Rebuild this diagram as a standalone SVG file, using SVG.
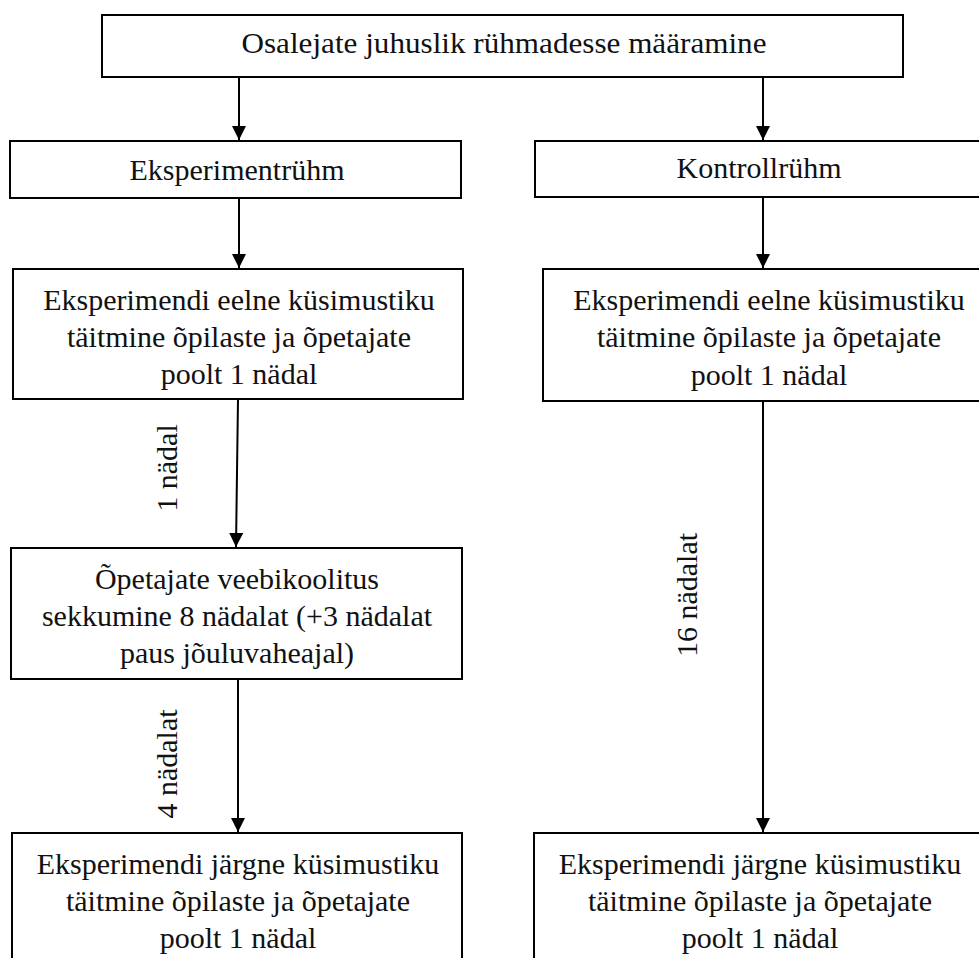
<svg xmlns="http://www.w3.org/2000/svg" width="979" height="958" viewBox="0 0 979 958">
<style>
.box{fill:#fff;stroke:#000;stroke-width:2}
.t{font-size:30px;fill:#111;text-anchor:middle}
.c{stroke:#000;stroke-width:2;fill:none;marker-end:url(#ah)}
</style>
<defs>
<marker id="ah" markerUnits="userSpaceOnUse" markerWidth="14" markerHeight="14" refX="14" refY="7" orient="auto">
<path d="M0,0 L14,7 L0,14 z" fill="#000"/>
</marker>
</defs>
<rect width="979" height="958" fill="#fff"/>
<g id="connectors">
<line class="c" x1="239" y1="77" x2="239" y2="140"/>
<line class="c" x1="763" y1="77" x2="763" y2="140"/>
<line class="c" x1="239" y1="198" x2="239" y2="268"/>
<line class="c" x1="763" y1="197" x2="763" y2="268"/>
<line class="c" x1="238" y1="399" x2="236" y2="547"/>
<line class="c" x1="238" y1="679" x2="238" y2="832"/>
<line class="c" x1="763" y1="401" x2="763" y2="832"/>
<text class="t" font-family="Liberation Serif, serif" transform="translate(177,468) rotate(-90)">1 nädal</text>
<text class="t" font-family="Liberation Serif, serif" transform="translate(177,764) rotate(-90)">4 nädalat</text>
<text class="t" font-family="Liberation Serif, serif" transform="translate(697,595) rotate(-90)">16 nädalat</text>
</g>
<g id="n-top">
<rect class="box" x="102" y="15" width="801" height="62"/>
<text class="t" font-family="Liberation Serif, serif" x="504" y="53" textLength="525" lengthAdjust="spacingAndGlyphs">Osalejate juhuslik rühmadesse määramine</text>
</g>
<g id="n-eksp">
<rect class="box" x="10" y="141" width="451" height="57"/>
<text class="t" font-family="Liberation Serif, serif" x="237" y="180">Eksperimentrühm</text>
</g>
<g id="n-kontroll">
<rect class="box" x="535" y="141" width="460" height="56"/>
<text class="t" font-family="Liberation Serif, serif" x="759" y="178">Kontrollrühm</text>
</g>
<g id="n-eelne-left">
<rect class="box" x="13" y="269" width="450" height="130"/>
<text class="t" font-family="Liberation Serif, serif" x="239" y="310">Eksperimendi eelne küsimustiku</text>
<text class="t" font-family="Liberation Serif, serif" x="239" y="347">täitmine õpilaste ja õpetajate</text>
<text class="t" font-family="Liberation Serif, serif" x="239" y="384">poolt 1 nädal</text>
</g>
<g id="n-eelne-right">
<rect class="box" x="543" y="269" width="460" height="132"/>
<text class="t" font-family="Liberation Serif, serif" x="769" y="310">Eksperimendi eelne küsimustiku</text>
<text class="t" font-family="Liberation Serif, serif" x="769" y="347">täitmine õpilaste ja õpetajate</text>
<text class="t" font-family="Liberation Serif, serif" x="769" y="385">poolt 1 nädal</text>
</g>
<g id="n-koolitus">
<rect class="box" x="11" y="548" width="451" height="131"/>
<text class="t" font-family="Liberation Serif, serif" x="237" y="589">Õpetajate veebikoolitus</text>
<text class="t" font-family="Liberation Serif, serif" x="237" y="626">sekkumine 8 nädalat (+3 nädalat</text>
<text class="t" font-family="Liberation Serif, serif" x="237" y="663">paus jõuluvaheajal)</text>
</g>
<g id="n-jargne-left">
<rect class="box" x="12" y="833" width="450" height="140"/>
<text class="t" font-family="Liberation Serif, serif" x="238" y="874">Eksperimendi järgne küsimustiku</text>
<text class="t" font-family="Liberation Serif, serif" x="238" y="911">täitmine õpilaste ja õpetajate</text>
<text class="t" font-family="Liberation Serif, serif" x="238" y="948">poolt 1 nädal</text>
</g>
<g id="n-jargne-right">
<rect class="box" x="534" y="833" width="460" height="140"/>
<text class="t" font-family="Liberation Serif, serif" x="760" y="874">Eksperimendi järgne küsimustiku</text>
<text class="t" font-family="Liberation Serif, serif" x="760" y="911">täitmine õpilaste ja õpetajate</text>
<text class="t" font-family="Liberation Serif, serif" x="760" y="948">poolt 1 nädal</text>
</g>
</svg>
